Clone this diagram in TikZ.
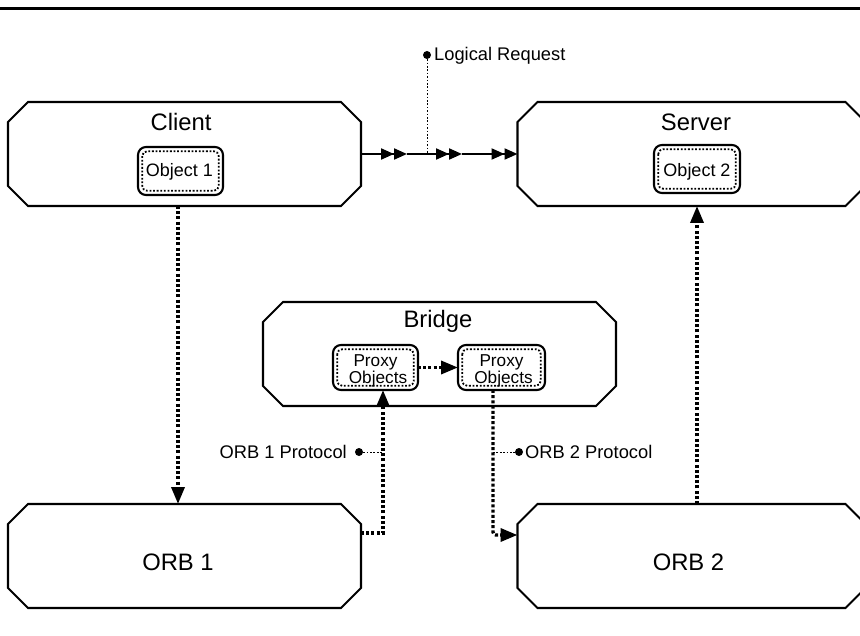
\documentclass[tikz,border=0pt]{standalone}
\usepackage{fontspec}
\setmainfont{Liberation Sans}
\usetikzlibrary{arrows.meta}

% chamfered outline around a (borderless) block node
\newcommand\chamferbox[1]{%
  \draw[edge] ([shift={(0,20)}]#1.north west) -- ([shift={(20,0)}]#1.north west)
    -- ([shift={(-20,0)}]#1.north east) -- ([shift={(0,20)}]#1.north east)
    -- ([shift={(0,-20)}]#1.south east) -- ([shift={(-20,0)}]#1.south east)
    -- ([shift={(20,0)}]#1.south west) -- ([shift={(0,-20)}]#1.south west) -- cycle;}
% dotted frame just inside an object box
\newcommand\dotframe[1]{%
  \draw[innerdots] ([shift={(4.2,4.2)}]#1.north west) rectangle ([shift={(-4.2,-4.2)}]#1.south east);}

\begin{document}
\begin{tikzpicture}[x=1pt,y=-1pt,
  block/.style={minimum width=353pt,minimum height=104pt,inner sep=0pt,outer sep=0pt},
  edge/.style={line width=2.1pt,line join=miter},
  objbox/.style={draw,line width=2.1pt,rounded corners=8pt,inner sep=0pt,outer sep=0pt,
                 minimum width=85pt,minimum height=48pt},
  innerdots/.style={line width=1.8pt,dash pattern=on 1.8pt off 1.8pt,rounded corners=5pt},
  title/.style={font=\fontsize{23.8}{26}\selectfont,anchor=base,inner sep=0pt},
  objtext/.style={font=\fontsize{18}{19}\selectfont,anchor=base,inner sep=0pt},
  proxytext/.style={font=\fontsize{17.2}{18}\selectfont,anchor=base,inner sep=0pt},
  note/.style={font=\fontsize{18.3}{20}\selectfont,inner sep=0pt},
  conn/.style={line width=3.4pt,dash pattern=on 3pt off 2.2pt,
               -{Triangle[length=17pt,width=13pt]}},
  request/.style={line width=2.1pt,
               -{Triangle[length=13pt,width=11pt]Triangle[length=13pt,width=11pt]}},
  callout/.style={line width=0.9pt,dash pattern=on 1.7pt off 1.7pt},
  dot/.style={circle,fill,inner sep=0pt,minimum size=8pt}]

\fill[white] (0,0) rectangle (860,636);
\useasboundingbox (0,0) rectangle (860,636);

% rule across the top
\draw[line width=3.4pt] (0,8.5) -- (860,8.5);

% main blocks
\node[block] (client) at (184.5,154) {};
\node[block,minimum width=348pt] (server) at (691.5,154) {};
\node[block] (bridge) at (439.5,354) {};
\node[block] (orb1) at (184.5,556) {};
\node[block,minimum width=348pt] (orb2) at (691.5,556) {};
\chamferbox{client}
\chamferbox{server}
\chamferbox{bridge}
\chamferbox{orb1}
\chamferbox{orb2}

% block titles
\node[title] (clienttitle) at (181,131) {Client};
\node[title] (servertitle) at (696,131) {Server};
\node[title] (bridgetitle) at (438,328) {Bridge};
\node[title] (orb1title) at (178,570) {ORB 1};
\node[title] (orb2title) at (688.5,570) {ORB 2};

% objects
\node[objbox] (o1) at (180.5,171) {};
\node[objbox,minimum width=86pt] (o2) at (697,169) {};
\node[objbox,minimum height=45pt] (p1) at (375.5,367.5) {};
\node[objbox,minimum width=87pt,minimum height=45pt] (p2) at (501.5,367.5) {};
\dotframe{o1}
\dotframe{o2}
\dotframe{p1}
\dotframe{p2}
\node[objtext] (o1text) at (179.5,177) {Object 1};
\node[objtext] (o2text) at (697,177) {Object 2};
\node[proxytext] (p1top) at (375.5,367) {Proxy};
\node[proxytext] (p1bot) at (378,384) {Objects};
\node[proxytext] (p2top) at (501.5,367) {Proxy};
\node[proxytext] (p2bot) at (503.5,384) {Objects};

% logical request from client to server
\coordinate (req1) at (407,154);
\coordinate (req2) at (462,154);
\draw[request] (client.east) -- (req1);
\draw[request] (req1) -- (req2);
\draw[request] (req2) -- (server.west);

\node[dot] (reqdot) at (427,55) {};
\coordinate (reqfoot) at (427,154);
\draw[callout] (reqdot) -- (reqfoot);
\node[note,anchor=base west] (reqlabel) at (434,61) {Logical Request};

% physical path through the ORBs and the bridge
\draw[conn] ([shift={(-6.5,0)}]client.south) -- ([shift={(-6.5,0)}]orb1.north);
\draw[conn] ([shift={(0,-23)}]orb1.east) -| ([shift={(7.5,0)}]p1.south);
\draw[conn] (p1.east) -- (p2.west);
\draw[conn,rounded corners=3pt] ([shift={(-8.5,0)}]p2.south) |- ([shift={(0,-21)}]orb2.west);
\draw[conn] ([shift={(5.5,0)}]orb2.north) -- ([shift={(5.5,0)}]server.south);

% protocol callouts
\node[dot] (dot1) at (359,452) {};
\coordinate (foot1) at (383,452);
\draw[callout] (dot1) -- (foot1);
\node[note,anchor=base east] (proto1) at (347,458) {ORB 1 Protocol};

\node[dot] (dot2) at (519,452) {};
\coordinate (foot2) at (493,452);
\draw[callout] (foot2) -- (dot2);
\node[note,anchor=base west] (proto2) at (525,458) {ORB 2 Protocol};
\end{tikzpicture}
\end{document}
